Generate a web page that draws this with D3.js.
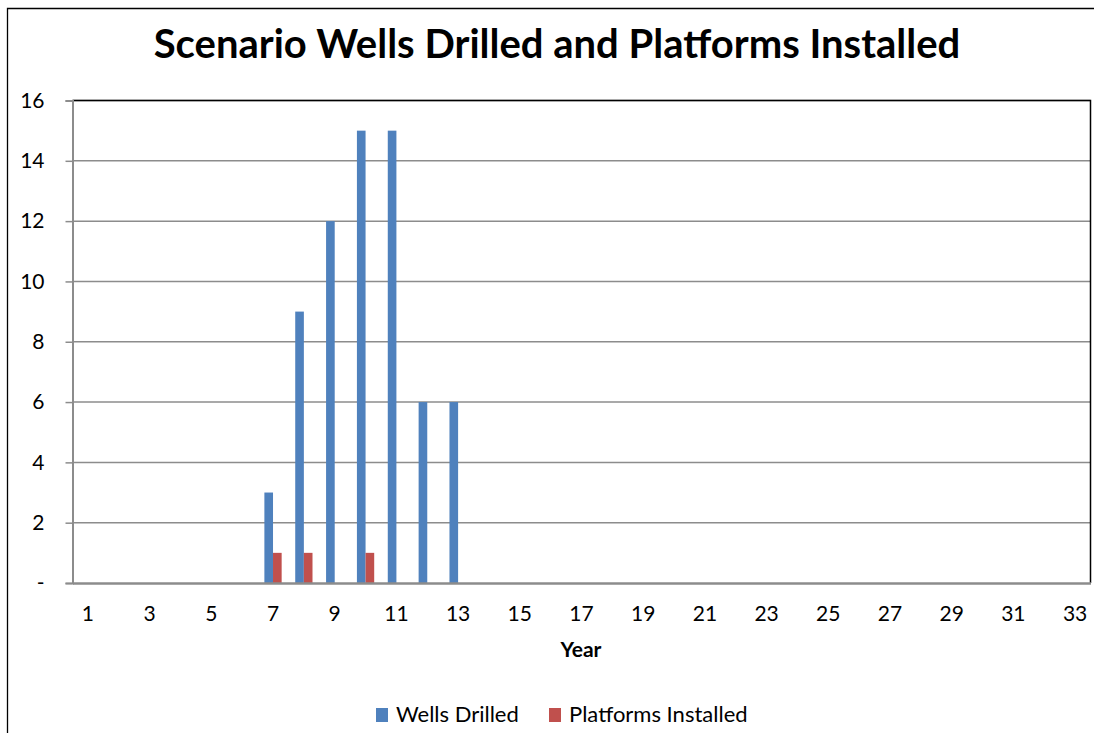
<!DOCTYPE html>
<html><head><meta charset="utf-8">
<script src="https://cdn.jsdelivr.net/npm/d3@7"></script>
<style>body{margin:0;background:#fff;} svg{display:block;}</style>
</head><body>
<svg id="c" width="1094" height="733"></svg>
<script>
const years = d3.range(1, 34);
const wellsDrilled = [0,0,0,0,0,0,3,9,12,15,15,6,6,0,0,0,0,0,0,0,0,0,0,0,0,0,0,0,0,0,0,0,0];
const platformsInstalled = [0,0,0,0,0,0,1,1,0,1,0,0,0,0,0,0,0,0,0,0,0,0,0,0,0,0,0,0,0,0,0,0,0];
const yTicks = [0,2,4,6,8,10,12,14,16];
const seriesNames = ["Wells Drilled", "Platforms Installed"];
const colors = ["#4F81BD", "#C0504D"];
const font = "Lato, 'Open Sans', sans-serif";

const svg = d3.select("#c");
const m = {left: 72.5, right: 1090.5, top: 100.5, bottom: 583};

// outer border
svg.append("path").attr("d", `M7.5,733 V8.5 H1094`).attr("fill","none").attr("stroke","#000").attr("stroke-width",1.3);

const x = d3.scaleBand().domain(years).range([m.left, m.right]).paddingInner(0.44).paddingOuter(0.22);
const xInner = d3.scaleBand().domain([0,1]).range([0, x.bandwidth()]);
const y = d3.scaleLinear().domain([0,16]).range([m.bottom, m.top]);

// gridlines
svg.append("g").selectAll("line").data(yTicks.filter(d=>d>0)).join("line")
  .attr("x1", m.left).attr("x2", m.right)
  .attr("y1", d=>y(d)).attr("y2", d=>y(d))
  .attr("stroke", "#8c8c8c").attr("stroke-width", 1.5);

// plot border (top/right black)
svg.append("path").attr("d", `M${m.left},${m.top} H${m.right} V${m.bottom}`)
  .attr("fill","none").attr("stroke","#000").attr("stroke-width",1.5);

// bars
const data = [wellsDrilled, platformsInstalled];
const g = svg.append("g");
data.forEach((arr, si) => {
  g.append("g").selectAll("rect").data(arr.map((v,i)=>({v, yr: years[i]})).filter(d=>d.v>0)).join("rect")
    .attr("x", d => x(d.yr) + xInner(si))
    .attr("width", xInner.bandwidth())
    .attr("y", d => y(d.v))
    .attr("height", d => y(0) - y(d.v))
    .attr("fill", colors[si]);
});

// y axis
const yAxis = d3.axisLeft(y).tickValues(yTicks).tickSize(7).tickPadding(21)
  .tickFormat(d => d === 0 ? "-" : d);
const ya = svg.append("g").attr("transform", `translate(${m.left},0)`).call(yAxis);
ya.select(".domain").attr("stroke","#8c8c8c").attr("stroke-width",2);
ya.selectAll(".tick line").attr("stroke","#8c8c8c").attr("stroke-width",1.5);
ya.selectAll("text").attr("font-family", font).attr("font-size", 21).attr("fill","#000");

// x axis
const xa = svg.append("g").attr("transform", `translate(0,${m.bottom})`)
  .call(d3.axisBottom(x).tickValues(years.filter(d => d % 2 === 1)).tickSize(0).tickPadding(23));
xa.select(".domain").attr("stroke","#8c8c8c").attr("stroke-width",2.5);
xa.selectAll("text").attr("font-family", font).attr("font-size", 21).attr("fill","#000");

// title
svg.append("text").attr("x", 557).attr("y", 58).attr("text-anchor","middle")
  .attr("font-family", font).attr("font-weight","bold").attr("font-size", 40).attr("fill","#000")
  .text("Scenario Wells Drilled and Platforms Installed");

// axis title
svg.append("text").attr("x", 581).attr("y", 656.5).attr("text-anchor","middle")
  .attr("font-family", font).attr("font-weight","bold").attr("font-size", 21).attr("fill","#000")
  .text("Year");

// legend
const legX = [376, 549];
seriesNames.forEach((n, i) => {
  svg.append("rect").attr("x", legX[i]).attr("y", 708).attr("width", 12).attr("height", 14).attr("fill", colors[i]);
  svg.append("text").attr("x", legX[i] + 20).attr("y", 722)
    .attr("font-family", font).attr("font-size", 22).attr("fill","#000").text(n);
});
</script>
</body></html>
